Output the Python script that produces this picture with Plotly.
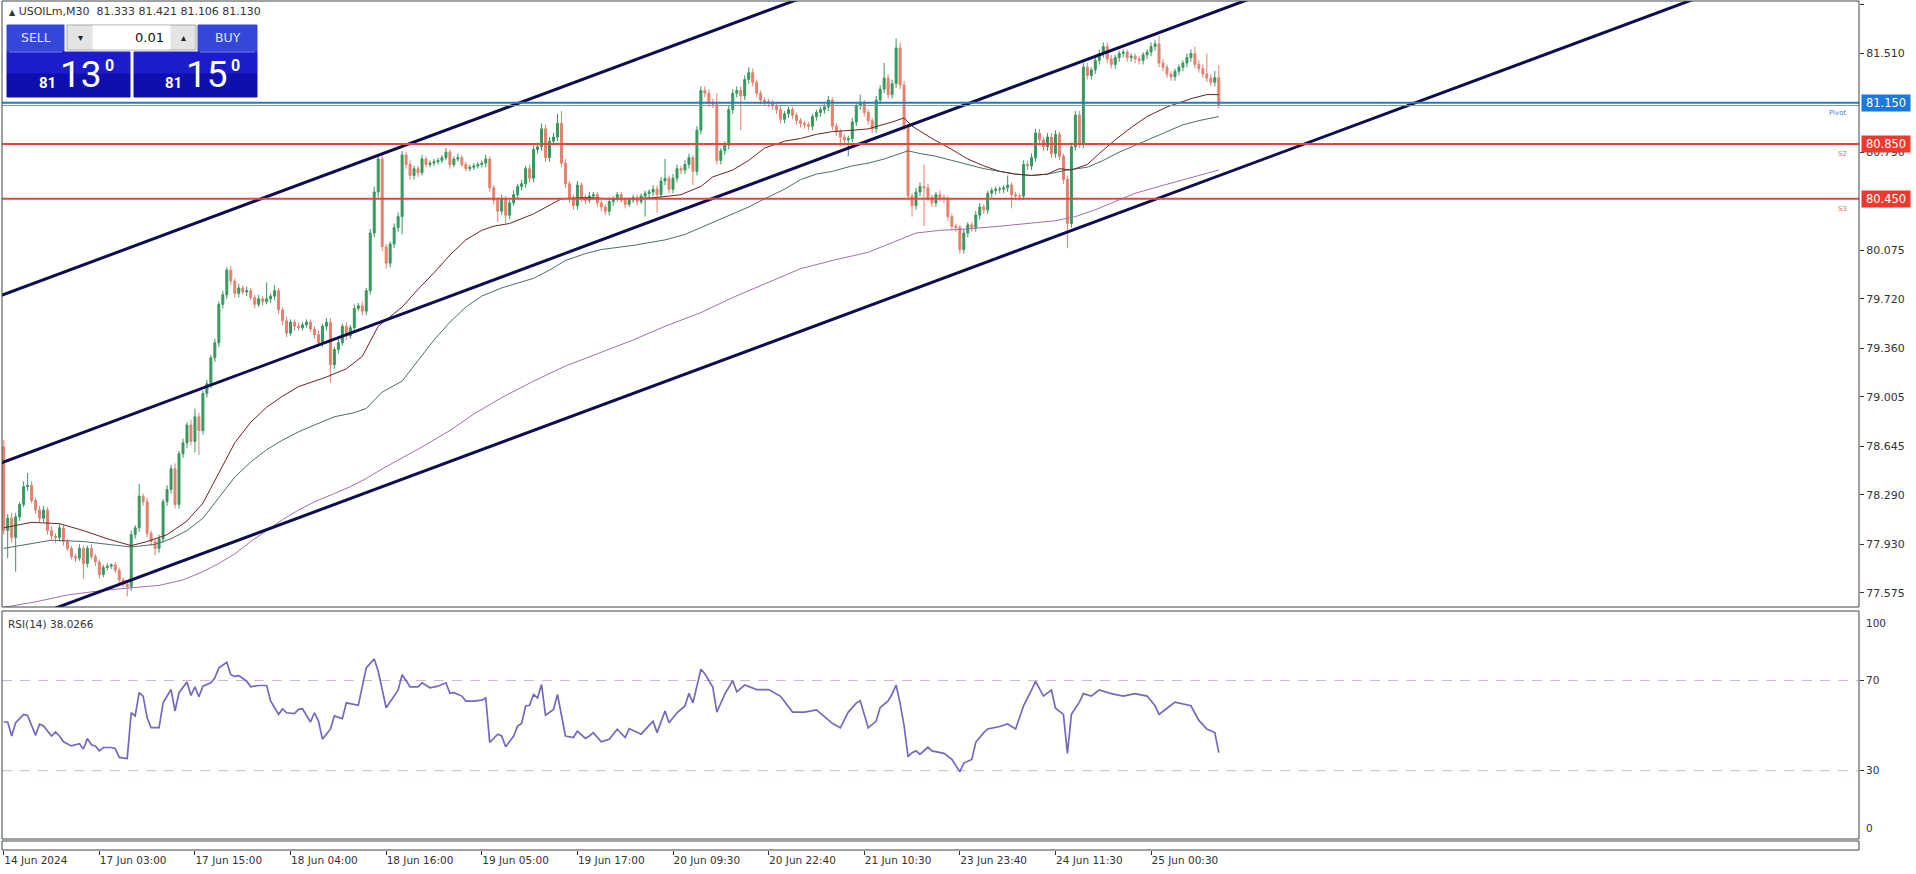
import plotly.graph_objects as go

# ---------------- data ----------------
tick_bars = [0, 24, 48, 72, 96, 120, 144, 168, 192, 216, 240, 264, 288]
tick_labels = ["14 Jun 2024", "17 Jun 03:00", "17 Jun 15:00", "18 Jun 04:00", "18 Jun 16:00",
               "19 Jun 05:00", "19 Jun 17:00", "20 Jun 09:30", "20 Jun 22:40", "21 Jun 10:30",
               "23 Jun 23:40", "24 Jun 11:30", "25 Jun 00:30"]

first_open = 78.64
closes = [
    78.03, 78.12, 77.98, 78.13, 78.22, 78.35, 78.36, 78.25, 78.18, 78.12,
    78.18, 78.03, 77.99, 77.98, 78.05, 77.95, 77.90, 77.84, 77.83, 77.90,
    77.79, 77.90, 77.84, 77.80, 77.71, 77.76, 77.77, 77.78, 77.74, 77.67,
    77.64, 77.62, 78.00, 78.05, 78.28, 78.24, 78.01, 77.95, 77.90, 77.97,
    78.24, 78.33, 78.48, 78.22, 78.59, 78.67, 78.80, 78.68, 78.86, 78.76,
    79.03, 79.10, 79.29, 79.40, 79.68, 79.75, 79.93, 79.85, 79.76, 79.80,
    79.77, 79.78, 79.73, 79.68, 79.72, 79.70, 79.72, 79.74, 79.78, 79.64,
    79.56, 79.47, 79.55, 79.52, 79.51, 79.53, 79.55, 79.50, 79.46, 79.40,
    79.52, 79.55, 79.24, 79.35, 79.40, 79.52, 79.45, 79.51, 79.65, 79.67,
    79.63, 79.78, 80.20, 80.50, 80.74, 80.10, 79.98, 80.12, 80.24, 80.32,
    80.77, 80.70, 80.62, 80.67, 80.64, 80.74, 80.70, 80.71, 80.72, 80.73,
    80.75, 80.79, 80.70, 80.74, 80.75, 80.70, 80.67, 80.68, 80.69, 80.70,
    80.71, 80.74, 80.53, 80.44, 80.36, 80.45, 80.33, 80.42, 80.48, 80.54,
    80.56, 80.67, 80.60, 80.81, 80.83, 80.96, 80.75, 80.87, 80.90, 81.00,
    80.71, 80.56, 80.45, 80.40, 80.55, 80.46, 80.44, 80.47, 80.48, 80.42,
    80.39, 80.36, 80.43, 80.45, 80.48, 80.44, 80.41, 80.44, 80.46, 80.43,
    80.47, 80.49, 80.50, 80.52, 80.48, 80.58, 80.60, 80.52, 80.60, 80.67,
    80.66, 80.70, 80.75, 80.65, 80.95, 81.24, 81.22, 81.15, 81.14, 80.73,
    80.80, 80.84, 81.10, 81.22, 81.24, 81.20, 81.32, 81.37, 81.30, 81.22,
    81.17, 81.16, 81.15, 81.13, 81.10, 81.03, 81.07, 81.10, 81.06, 81.02,
    81.00, 80.99, 80.98, 81.05, 81.08, 81.10, 81.12, 81.17, 80.98, 80.94,
    80.90, 80.88, 80.89, 81.01, 81.13, 81.15, 81.08, 81.02, 80.96, 81.17,
    81.25, 81.33, 81.21, 81.29, 81.55, 81.28, 80.98, 80.47, 80.40, 80.50,
    80.54, 80.53, 80.46, 80.42, 80.48, 80.46, 80.45, 80.32, 80.25, 80.24,
    80.08, 80.20, 80.26, 80.24, 80.33, 80.39, 80.37, 80.49, 80.51, 80.52,
    80.52, 80.53, 80.55, 80.48, 80.47, 80.47, 80.70, 80.69, 80.75, 80.93,
    80.88, 80.83, 80.90, 80.78, 80.92, 80.76, 80.59, 80.27, 80.83, 81.06,
    80.85, 81.41, 81.35, 81.39, 81.46, 81.51, 81.56, 81.47, 81.43, 81.48,
    81.51, 81.52, 81.48, 81.49, 81.47, 81.46, 81.50, 81.52, 81.56, 81.58,
    81.44, 81.41, 81.36, 81.34, 81.38, 81.41, 81.44, 81.48, 81.51, 81.43,
    81.40, 81.36, 81.33, 81.30, 81.333, 81.13,
]
# wick lengths above / below the body, in hundredths of a dollar
wick_up = [
    5, 3, 4, 3, 2, 4, 9, 3, 2, 3,   3, 2, 3, 2, 3, 2, 2, 2, 2, 3,
    2, 2, 3, 2, 2, 2, 2, 1, 2, 2,   2, 2, 3, 2, 9, 2, 3, 2, 2, 3,
    2, 3, 3, 4, 2, 3, 2, 4, 6, 3,   2, 3, 2, 3, 2, 3, 2, 3, 2, 3,
    2, 3, 2, 2, 3, 2, 12, 2, 4, 2,  2, 3, 2, 2, 3, 2, 2, 2, 2, 3,
    2, 3, 3, 2, 3, 2, 3, 2, 3, 2,   3, 2, 3, 4, 3, 3, 2, 2, 3, 3,
    3, 2, 3, 2, 2, 3, 2, 2, 2, 2,   2, 3, 2, 2, 3, 2, 2, 2, 2, 2,
    2, 3, 2, 2, 2, 3, 2, 2, 3, 2,   3, 2, 3, 3, 3, 4, 3, 3, 3, 7,
    9, 3, 2, 3, 3, 2, 2, 3, 2, 2,   2, 2, 3, 2, 2, 2, 2, 2, 2, 2,
    2, 2, 2, 3, 3, 3, 14, 2, 3, 3,  2, 3, 3, 2, 3, 3, 3, 3, 3, 8,
    2, 3, 3, 3, 3, 3, 3, 4, 3, 2,   2, 2, 2, 2, 2, 3, 2, 2, 2, 2,
    2, 2, 2, 2, 2, 2, 2, 3, 2, 2,   2, 2, 2, 3, 2, 6, 2, 2, 2, 3,
    3, 11, 3, 3, 7, 4, 3, 2, 2, 3,  3, 16, 3, 2, 2, 3, 2, 2, 2, 2,
    2, 3, 2, 2, 3, 3, 2, 2, 2, 2,   2, 2, 7, 2, 2, 2, 3, 3, 3, 3,
    3, 2, 3, 3, 3, 2, 2, 3, 3, 3,   3, 3, 3, 2, 3, 3, 3, 3, 3, 2,
    2, 2, 2, 2, 2, 2, 2, 2, 3, 3,   6, 3, 2, 2, 2, 2, 2, 3, 3, 5,
    3, 3, 15, 3, 5, 9,
]
wick_dn = [
    3, 20, 4, 25, 3, 2, 3, 2, 3, 3,  3, 3, 3, 4, 3, 3, 2, 2, 3, 2,
    11, 3, 2, 3, 3, 2, 2, 2, 2, 3,   2, 7, 3, 3, 3, 3, 3, 3, 5, 3,
    3, 3, 3, 3, 3, 3, 4, 3, 8, 18,   3, 3, 3, 3, 3, 3, 3, 3, 3, 3,
    2, 3, 2, 3, 2, 3, 2, 3, 3, 3,    3, 3, 2, 3, 2, 2, 2, 2, 3, 3,
    3, 3, 13, 3, 3, 2, 3, 2, 3, 2,   3, 3, 3, 3, 4, 3, 4, 3, 3, 3,
    13, 3, 3, 3, 3, 2, 2, 2, 2, 2,   2, 2, 3, 2, 2, 2, 2, 2, 2, 2,
    2, 3, 3, 3, 8, 3, 6, 3, 2, 3,    3, 3, 3, 3, 3, 3, 3, 3, 3, 3,
    3, 3, 3, 3, 3, 3, 3, 2, 2, 3,    3, 3, 3, 3, 2, 2, 3, 2, 2, 3,
    2, 15, 3, 3, 13, 3, 3, 3, 3, 3,  3, 3, 3, 10, 3, 3, 3, 3, 3, 3,
    3, 3, 3, 3, 3, 25, 3, 3, 3, 3,   3, 3, 3, 3, 3, 3, 3, 3, 3, 3,
    3, 3, 3, 3, 3, 3, 3, 3, 3, 3,    7, 3, 12, 3, 3, 3, 3, 3, 3, 3,
    3, 3, 3, 3, 3, 3, 3, 3, 8, 3,    3, 28, 3, 3, 3, 3, 3, 3, 3, 3,
    3, 3, 3, 3, 3, 3, 3, 3, 3, 3,    3, 3, 3, 10, 3, 3, 3, 3, 3, 3,
    3, 3, 3, 3, 3, 3, 3, 18, 3, 3,   3, 3, 3, 3, 3, 3, 3, 3, 3, 3,
    3, 3, 3, 3, 3, 3, 3, 3, 3, 3,    3, 3, 3, 3, 3, 3, 3, 3, 3, 3,
    3, 3, 3, 3, 3, 2,
]

# moving averages (bar index, value)
ma_fast_bar = [0, 7, 14, 20, 26, 32, 36, 41, 46, 50, 54, 58, 62, 66, 70, 74, 81, 86, 90, 94,
               100, 104, 108, 112, 116, 120, 123, 127, 133, 140, 146, 152, 158, 164, 170, 175,
               178, 183, 187, 191, 196, 200, 204, 208, 213, 217, 223, 226, 228, 233, 238, 242,
               246, 250, 254, 258, 262, 265, 268, 272, 275, 279, 283, 287, 292, 298, 302, 305]
ma_fast_val = [78.05, 78.09, 78.08, 78.03, 77.97, 77.92, 77.95, 78.00, 78.10, 78.23, 78.45,
               78.67, 78.82, 78.93, 79.01, 79.08, 79.15, 79.21, 79.30, 79.52, 79.66, 79.79,
               79.91, 80.04, 80.15, 80.22, 80.25, 80.27, 80.34, 80.45, 80.46, 80.45, 80.45,
               80.46, 80.48, 80.54, 80.61, 80.66, 80.73, 80.82, 80.87, 80.89, 80.92, 80.94,
               80.95, 80.96, 81.01, 81.04, 80.98, 80.89, 80.81, 80.74, 80.69, 80.65, 80.63,
               80.62, 80.63, 80.67, 80.66, 80.70, 80.78, 80.88, 80.97, 81.05, 81.12, 81.18,
               81.21, 81.21]
ma_mid_bar = [0, 6, 12, 20, 28, 32, 38, 42, 46, 50, 54, 58, 62, 66, 70, 74, 78, 83, 88, 91,
              95, 100, 104, 108, 112, 116, 120, 125, 133, 137, 141, 146, 150, 158, 166, 171,
              175, 179, 183, 187, 191, 196, 200, 204, 208, 213, 217, 221, 225, 227, 230, 234,
              238, 242, 246, 250, 254, 258, 262, 267, 272, 276, 280, 284, 288, 292, 296, 300, 305]
ma_mid_val = [77.90, 77.93, 77.96, 77.95, 77.92, 77.91, 77.93, 77.97, 78.03, 78.12, 78.27,
              78.42, 78.53, 78.62, 78.69, 78.75, 78.80, 78.86, 78.89, 78.92, 79.04, 79.12,
              79.27, 79.42, 79.55, 79.66, 79.74, 79.80, 79.87, 79.93, 80.00, 80.05, 80.08,
              80.11, 80.15, 80.19, 80.24, 80.29, 80.34, 80.39, 80.45, 80.52, 80.59, 80.63,
              80.65, 80.69, 80.71, 80.74, 80.78, 80.80, 80.78, 80.76, 80.73, 80.70, 80.67,
              80.65, 80.63, 80.62, 80.63, 80.66, 80.68, 80.73, 80.79, 80.84, 80.89, 80.94,
              80.99, 81.02, 81.05]
ma_slow_bar = [0, 8, 16, 24, 31, 39, 45, 50, 54, 58, 62, 66, 70, 74, 78, 83, 87, 91, 95, 100,
               105, 112, 118, 125, 133, 141, 150, 158, 166, 175, 183, 191, 200, 208, 217, 223,
               229, 235, 242, 250, 258, 264, 269, 274, 279, 284, 290, 296, 300, 305]
ma_slow_val = [77.47, 77.51, 77.56, 77.59, 77.61, 77.63, 77.67, 77.73, 77.79, 77.86, 77.95,
               78.03, 78.11, 78.18, 78.24, 78.30, 78.35, 78.41, 78.48, 78.56, 78.64, 78.76,
               78.88, 79.00, 79.12, 79.23, 79.33, 79.42, 79.52, 79.62, 79.73, 79.83, 79.94,
               80.00, 80.06, 80.13, 80.20, 80.22, 80.23, 80.25, 80.27, 80.29, 80.32, 80.37,
               80.43, 80.49, 80.54, 80.59, 80.62, 80.66]

# RSI(14) (bar index, value)
rsi_bar = [0, 1, 2, 3, 5, 6, 8, 9, 10, 12, 13, 14, 15, 17, 19, 20, 21, 22, 23, 24, 25, 27, 28,
           29, 31, 32, 33, 34, 35, 36, 37, 39, 40, 42, 43, 44, 46, 47, 48, 49, 50, 52, 53, 54,
           56, 57, 58, 59, 61, 62, 64, 66, 67, 69, 70, 71, 73, 74, 75, 77, 78, 79, 80, 82, 83,
           85, 86, 89, 91, 93, 94, 96, 98, 99, 100, 102, 104, 105, 107, 109, 111, 112, 113,
           115, 116, 118, 120, 121, 122, 124, 125, 126, 128, 129, 130, 131, 132, 133, 134, 135,
           136, 138, 139, 141, 143, 144, 146, 147, 148, 150, 152, 154, 156, 157, 160, 162, 163,
           164, 166, 167, 169, 171, 172, 173, 175, 176, 178, 179, 181, 183, 184, 186, 189, 192,
           195, 198, 201, 204, 208, 210, 212, 214, 215, 217, 219, 220, 222, 223, 224, 225, 226,
           227, 228, 229, 230, 232, 233, 236, 238, 240, 241, 243, 244, 246, 247, 250, 252, 254,
           256, 258, 259, 261, 263, 264, 266, 267, 268, 270, 271, 273, 275, 278, 281, 284, 287,
           289, 290, 292, 294, 298, 300, 302, 304, 305]
rsi_val = [51.6, 51.6, 45.4, 51.3, 55.0, 54.5, 45.7, 50.6, 49.8, 45.4, 47.2, 45.4, 42.8, 41.0,
           42.0, 39.6, 44.3, 41.5, 41.0, 38.8, 40.3, 40.3, 39.8, 35.9, 35.4, 55.7, 54.3, 64.6,
           63.1, 53.5, 49.1, 49.1, 60.1, 66.0, 56.5, 64.6, 69.3, 63.4, 67.2, 62.8, 67.5, 69.0,
           71.2, 75.6, 78.1, 72.6, 71.9, 72.2, 69.7, 67.2, 67.8, 67.8, 60.9, 55.0, 57.5, 55.7,
           55.3, 57.2, 57.5, 51.6, 55.7, 52.1, 44.0, 48.4, 54.3, 53.1, 60.1, 59.0, 75.6, 79.6,
           74.1, 57.9, 63.1, 65.7, 72.6, 67.2, 67.2, 69.0, 66.8, 67.5, 69.0, 64.3, 64.6, 63.1,
           60.9, 60.9, 61.3, 62.3, 42.5, 46.2, 45.4, 40.6, 45.4, 49.8, 51.0, 58.7, 59.0, 63.8,
           62.3, 68.2, 54.6, 57.2, 63.8, 45.4, 44.7, 47.6, 44.3, 45.4, 46.9, 42.8, 43.9, 48.4,
           44.7, 48.7, 46.2, 49.8, 52.0, 46.9, 56.5, 51.3, 55.7, 58.7, 64.3, 60.1, 75.0, 73.0,
           67.0, 56.0, 64.0, 70.0, 65.0, 68.0, 66.0, 66.0, 63.0, 56.0, 56.0, 57.0, 51.0, 49.0,
           56.0, 60.0, 61.0, 49.0, 52.0, 58.0, 61.0, 64.0, 68.0, 60.0, 50.0, 36.2, 38.0, 38.8,
           37.2, 40.4, 38.8, 37.7, 35.0, 29.6, 33.4, 35.0, 42.6, 46.9, 48.5, 49.6, 50.7, 48.5,
           58.8, 65.8, 69.6, 63.1, 65.8, 57.7, 55.0, 37.7, 55.0, 60.4, 64.2, 63.1, 65.8, 64.2,
           63.1, 64.2, 63.1, 58.8, 55.0, 57.7, 60.4, 58.8, 52.3, 48.5, 46.9, 38.03]
rsi_levels = [30, 70]

# channel (three parallel trend lines): price at bar 0 and rise per bar
channel_start = [79.752, 78.530, 77.324]
channel_slope = 0.0108

# horizontal levels
level_names = ["Pivot", "S2", "S3"]
level_vals = [81.150, 80.850, 80.450]
bid_price = 81.130
ask_price = 81.150
last_ohlc = [81.333, 81.421, 81.106, 81.130]
symbol = "USOILm,M30"
lot = "0.01"
rsi_last = 38.0266

price_ticks = [81.865, 81.510, 80.790, 80.075, 79.720, 79.360, 79.005, 78.645, 78.290, 77.930, 77.575]

# ---------------- derived OHLC ----------------
bars = list(range(len(closes)))
opens = [first_open] + closes[:-1]
highs = [max(o, c) + u / 100 for o, c, u in zip(opens, closes, wick_up)]
lows = [min(o, c) - d / 100 for o, c, d in zip(opens, closes, wick_dn)]

# ---------------- layout helpers ----------------
W, H = 1916, 874
def px(x):
    return x / W
def py(y):
    return 1 - y / H

FONT = "DejaVu Sans"
GREEN = "#34995d"
RED = "#e6806d"
NAVY = "#0d0d4f"
XL, XR = 2, 1859
X_RANGE = [-0.43, 465.7]

fig = go.Figure()

fig.add_trace(go.Candlestick(
    x=bars, open=opens, high=highs, low=lows, close=closes,
    increasing=dict(line=dict(color=GREEN, width=1), fillcolor=GREEN),
    decreasing=dict(line=dict(color=RED, width=1), fillcolor=RED),
    whiskerwidth=0, hoverinfo="skip", showlegend=False, xaxis="x", yaxis="y"))

for bx, vy, col in [(ma_slow_bar, ma_slow_val, "#a56db0"),
                    (ma_mid_bar, ma_mid_val, "#4b6d6f"),
                    (ma_fast_bar, ma_fast_val, "#6a2424")]:
    fig.add_trace(go.Scatter(x=bx, y=vy, mode="lines", line=dict(color=col, width=1),
                             hoverinfo="skip", showlegend=False, xaxis="x", yaxis="y"))

for s in channel_start:
    xs = [-2, 470]
    fig.add_trace(go.Scatter(x=xs, y=[s + channel_slope * v for v in xs], mode="lines",
                             line=dict(color=NAVY, width=3), hoverinfo="skip",
                             showlegend=False, xaxis="x", yaxis="y"))

fig.add_trace(go.Scatter(x=rsi_bar, y=rsi_val, mode="lines", line=dict(color="#7767bd", width=1.7),
                         hoverinfo="skip", showlegend=False, xaxis="x2", yaxis="y2"))

# empty trace so that the time-axis strip subplot is drawn
fig.add_trace(go.Scatter(x=[tick_bars[0]], y=[None], mode="lines", hoverinfo="skip",
                         showlegend=False, xaxis="x3", yaxis="y3"))

shapes = []
# level lines
shapes.append(dict(type="line", xref="paper", yref="y", x0=px(XL), x1=px(XR), y0=bid_price, y1=bid_price,
                   line=dict(color="#7d98a8", width=1), layer="above"))
level_cols = ["#1f7bc8", "#e2473b", "#e2473b"]
for v, c in zip(level_vals, level_cols):
    shapes.append(dict(type="line", xref="paper", yref="y", x0=px(XL), x1=px(XR), y0=v, y1=v,
                       line=dict(color=c, width=2), layer="above"))
for v in rsi_levels:
    shapes.append(dict(type="line", xref="paper", yref="y2", x0=px(XL), x1=px(XR), y0=v, y1=v,
                       line=dict(color="#d2b4d8", width=1, dash="10px,8px"), layer="below"))
# panel borders
for (y0, y1) in [(1, 607), (611, 839), (841, 850)]:
    shapes.append(dict(type="rect", xref="paper", yref="paper", x0=px(XL), x1=px(XR),
                       y0=py(y1), y1=py(y0), line=dict(color="#3b4646", width=1), layer="above"))

# one-click trading panel
def rect(x0, y0, x1, y1, fill, line=None):
    return dict(type="rect", xref="paper", yref="paper", x0=px(x0), x1=px(x1), y0=py(y1), y1=py(y0),
                fillcolor=fill, line=dict(color=line or fill, width=1), layer="above")
shapes += [
    rect(7, 25, 64, 52, "#3447d8"),
    rect(198, 25, 257, 52, "#3447d8"),
    rect(67, 25, 196, 50, "#e4e4e4", "#a9a9a9"),
    rect(93, 26, 170, 49, "#ffffff", "#ffffff"),
    rect(7, 52, 130, 74, "#1c1ccb"),
    rect(7, 74, 130, 97, "#0f0fae"),
    rect(134, 52, 257, 74, "#1c1ccb"),
    rect(134, 74, 257, 97, "#0f0fae"),
]
shapes.append(dict(type="line", xref="paper", yref="paper", x0=px(9), x1=px(62), y0=py(52), y1=py(52),
                   line=dict(color="#7b88ea", width=1), layer="above"))
shapes.append(dict(type="line", xref="paper", yref="paper", x0=px(200), x1=px(255), y0=py(52), y1=py(52),
                   line=dict(color="#7b88ea", width=1), layer="above"))

ann = []
def text(x, y, t, size=11, color="#333333", xanchor="center", family=FONT, weight=None):
    f = dict(family=family, size=size, color=color)
    if weight:
        f["weight"] = weight
    ann.append(dict(x=px(x), y=py(y), xref="paper", yref="paper", text=t, showarrow=False,
                    xanchor=xanchor, yanchor="middle", font=f))

hdr = ("<span style='font-size:8px'>▲</span> " + symbol + "\u00a0\u00a0" +
       " ".join(f"{v:.3f}" for v in last_ohlc))
text(7, 12, hdr, size=11, xanchor="left")
text(36, 38, "SELL", size=12.5, color="#e2e6ff")
text(228, 38, "BUY", size=12.5, color="#e2e6ff")
text(80, 37, "▾", size=10, color="#222222")
text(183, 37, "▴", size=10, color="#222222")
text(166, 38, lot, size=13, color="#111111", xanchor="right")

def split_price(p):
    s = f"{p:.3f}"
    return s[:2], s[3:5], s[5]
for (cx, p) in [(0, bid_price), (126, ask_price)]:
    big1, big2, small = split_price(p)
    text(47 + cx, 83, big1, size=15, color="#ffffff", family="Roboto", weight="bold")
    text(81 + cx, 74, big2, size=37, color="#ffffff", family="Roboto")
    text(109 + cx, 65, small, size=16, color="#ffffff", family="Roboto", weight="bold")

# right axis price boxes
box_cols = ["#1b78e0", "#ee3a2e", "#ee3a2e"]
for v, c in zip(level_vals, box_cols):
    ann.append(dict(x=px(1861), y=v, xref="paper", yref="y", text=f"{v:.3f}", showarrow=False,
                    xanchor="left", yanchor="middle", bgcolor=c, borderpad=1, width=46,
                    font=dict(family=FONT, size=11.5, color="#ffffff")))
# level names
name_pos = [(1837, 113, "#4a80d0"), (1842, 154, "#d27070"), (1842, 209, "#d27070")]
for n, (x, y, c) in zip(level_names, name_pos):
    text(x, y, n, size=7, color=c)

text(6, 624, f"RSI(14) {rsi_last:.4f}", size=10.5, xanchor="left")
ann.append(dict(x=px(1864), y=100, xref="paper", yref="y2", text="100", showarrow=False,
                xanchor="left", yanchor="top", yshift=-2, font=dict(family=FONT, size=10.5, color="#333333")))
ann.append(dict(x=px(1864), y=0, xref="paper", yref="y2", text="0", showarrow=False,
                xanchor="left", yanchor="bottom", yshift=2, font=dict(family=FONT, size=10.5, color="#333333")))

dom_x = [px(XL), px(XR)]
axis_common = dict(showgrid=False, zeroline=False, showline=False, fixedrange=True)
fig.update_layout(
    width=W, height=H, margin=dict(l=0, r=0, t=0, b=0),
    paper_bgcolor="#ffffff", plot_bgcolor="#ffffff",
    showlegend=False, hovermode=False, boxgap=0.3,
    xaxis=dict(domain=dom_x, range=X_RANGE, anchor="y", showticklabels=False, ticks="",
               rangeslider=dict(visible=False), **axis_common),
    yaxis=dict(domain=[py(607), py(1)], range=[77.4725, 81.8927], side="right", anchor="x",
               tickvals=price_ticks, ticktext=[f"{v:.3f}" for v in price_ticks],
               ticks="outside", ticklen=4, tickcolor="#333333",
               tickfont=dict(family=FONT, size=11, color="#333333"), **axis_common),
    xaxis2=dict(domain=dom_x, range=X_RANGE, anchor="y2", showticklabels=False, ticks="", **axis_common),
    yaxis2=dict(domain=[py(839), py(612)], range=[-0.3, 100.4], side="right", anchor="x2",
                tickvals=rsi_levels, ticktext=[str(v) for v in rsi_levels],
                ticks="outside", ticklen=4, tickcolor="#333333",
                tickfont=dict(family=FONT, size=10.5, color="#333333"), **axis_common),
    xaxis3=dict(domain=dom_x, range=X_RANGE, anchor="y3", tickvals=tick_bars, ticktext=tick_labels,
                ticks="outside", ticklen=4, tickcolor="#333333", ticklabelposition="outside right",
                tickfont=dict(family=FONT, size=10.5, color="#333333"), **axis_common),
    yaxis3=dict(domain=[py(850), py(841)], range=[0, 1], anchor="x3", showticklabels=False,
                ticks="", showgrid=False, zeroline=False, showline=False, fixedrange=True),
    shapes=shapes, annotations=ann,
)

fig.write_html("out.html", config={"displayModeBar": False},
               post_script="document.body.style.margin='0px';document.body.style.overflow='hidden';")
